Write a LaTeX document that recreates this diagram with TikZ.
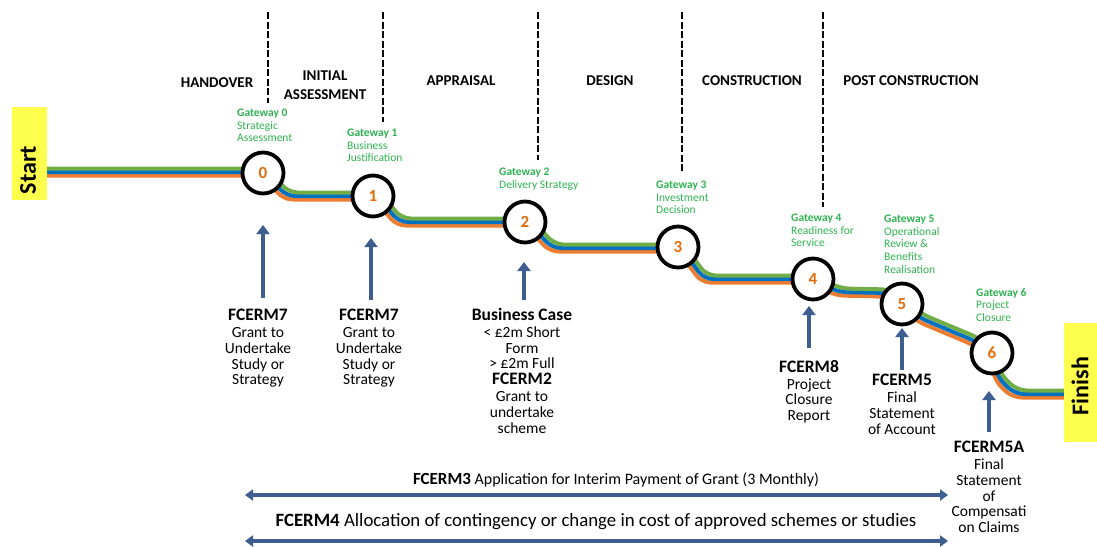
\documentclass[tikz,border=0pt]{standalone}
\usepackage{fontspec}
\setmainfont{Carlito}
\usetikzlibrary{arrows.meta}
\definecolor{trkgreen}{RGB}{112,173,71}
\definecolor{trkblue}{RGB}{0,112,192}
\definecolor{trkorange}{RGB}{237,125,49}
\definecolor{gwgreen}{RGB}{46,178,80}
\definecolor{numorange}{RGB}{228,108,10}
\definecolor{steel}{RGB}{62,94,145}
\definecolor{startyellow}{RGB}{255,255,77}
\begin{document}
\begin{tikzpicture}[x=1pt,y=-1pt,
 gate/.style={circle,draw=black,line width=3.8pt,fill=white,minimum size=41pt,inner sep=0pt,font=\fontsize{17}{17}\selectfont\bfseries,text=numorange},
 phase/.style={font=\fontsize{15}{19}\selectfont\bfseries,align=center,inner sep=0pt},
 gwlabel/.style={anchor=north west,align=left,inner sep=0pt,text=gwgreen,font=\fontsize{11.5}{12.6}\selectfont},
 formtext/.style={anchor=north,align=center,inner sep=0pt,font=\fontsize{15.5}{15.8}\selectfont},
 formtitle/.style={},
 uparrow/.style={draw=steel,line width=4pt,-{Triangle[width=13pt,length=9pt]}},
 dblarrow/.style={draw=steel,line width=4.5pt,{Triangle[width=11pt,length=8pt]}-{Triangle[width=11pt,length=8pt]}},
 divider/.style={draw=black,line width=2.6pt,dash pattern=on 7pt off 2.5pt},
 endbox/.style={fill=startyellow,draw=none,inner sep=0pt},
 endtext/.style={rotate=90,inner sep=0pt,font=\fontsize{24}{24}\selectfont\bfseries},
]
\newcommand{\ftitle}[1]{{\fontsize{17.5}{16}\selectfont\bfseries #1}}
\useasboundingbox (0,0) rectangle (1097,546);

% track
\foreach \c/\dx/\dy in {trkorange/-2.5/-3.5, trkblue/0/0, trkgreen/2.5/3.5}{
  \draw[\c, line width=4pt, rounded corners=9pt, xshift=\dx pt, yshift=\dy pt]
    (40,172) -- (263,172) -- (268,175) -- (286,196) -- (373,196)
    -- (380,199) -- (399,222) -- (525,222)
    -- (532,226) -- (552,248) -- (678,248)
    -- (684,252) -- (704,279) -- (813,279)
    -- (820,283) -- (838,292) -- (888,293) -- (902,304)
    -- (920,318) -- (975,341) -- (992,352)
    -- (998,378) -- (1015,394) -- (1070,394);
}

% start / finish
\node[endbox, minimum width=35pt, minimum height=93pt] (startbox) at (29.5,153.5) {};
\node[endtext] (starttxt) at (28,170) {Start};
\node[endbox, minimum width=34pt, minimum height=119pt] (finishbox) at (1081,382.5) {};
\node[endtext] (finishtxt) at (1080,386) {Finish};

% dividers
\coordinate (d1t) at (268,12); \coordinate (d1b) at (268,103);
\coordinate (d2t) at (383,12); \coordinate (d2b) at (383,122);
\coordinate (d3t) at (538,12); \coordinate (d3b) at (538,160);
\coordinate (d4t) at (682,12); \coordinate (d4b) at (682,172);
\coordinate (d5t) at (823,12); \coordinate (d5b) at (823,207);
\foreach \i in {1,...,5}{\draw[divider] (d\i t) -- (d\i b);}

% phases
\node[phase] (ph0) at (217,83) {HANDOVER};
\node[phase] (ph1) at (325,85) {INITIAL\\ASSESSMENT};
\node[phase] (ph2) at (461,81) {APPRAISAL};
\node[phase] (ph3) at (610,81) {DESIGN};
\node[phase] (ph4) at (752,81) {CONSTRUCTION};
\node[phase] (ph5) at (911,81) {POST CONSTRUCTION};

% gateways
\node[gate] (g0) at (263,173) {0};
\node[gate] (g1) at (373,196) {1};
\node[gate] (g2) at (525,222) {2};
\node[gate] (g3) at (678,247) {3};
\node[gate] (g4) at (813,279) {4};
\node[gate] (g5) at (902,304) {5};
\node[gate] (g6) at (992,353) {6};

\node[gwlabel] (gl0) at (237,109) {\textbf{Gateway 0}\\Strategic\\Assessment};
\node[gwlabel] (gl1) at (347,129) {\textbf{Gateway 1}\\Business\\Justification};
\node[gwlabel] (gl2) at (499,168) {\textbf{Gateway 2}\\Delivery Strategy};
\node[gwlabel] (gl3) at (656,181) {\textbf{Gateway 3}\\Investment\\Decision};
\node[gwlabel] (gl4) at (791,214) {\textbf{Gateway 4}\\Readiness for\\Service};
\node[gwlabel] (gl5) at (884,215) {\textbf{Gateway 5}\\Operational\\Review \&\\Benefits\\Realisation};
\node[gwlabel] (gl6) at (976,288) {\textbf{Gateway 6}\\Project\\Closure};

% forms
\node[formtext] (f0) at (258,309) {\ftitle{FCERM7}\\[1pt]Grant to\\Undertake\\Study or\\Strategy};
\node[formtext] (f1) at (369,309) {\ftitle{FCERM7}\\[1pt]Grant to\\Undertake\\Study or\\Strategy};
\node[formtext] (f2) at (522,308) {\ftitle{Business Case}\\[1pt]< £2m Short\\Form\\> £2m Full\\\ftitle{FCERM2}\\[1pt]Grant to\\undertake\\scheme};
\node[formtext] (f4) at (809,360) {\ftitle{FCERM8}\\[1pt]Project\\Closure\\Report};
\node[formtext] (f5) at (902,374) {\ftitle{FCERM5}\\[1pt]Final\\Statement\\of Account};
\node[formtext] (f6) at (989,441) {\ftitle{FCERM5A}\\[1pt]Final\\Statement\\of\\Compensati\\on Claims};

% up arrows
\coordinate (a0b) at (263,298); \coordinate (a0t) at (263,225);
\coordinate (a1b) at (371,300); \coordinate (a1t) at (371,238);
\coordinate (a2b) at (524,300); \coordinate (a2t) at (524,262);
\coordinate (a4b) at (809,348); \coordinate (a4t) at (809,306);
\coordinate (a5b) at (902,370); \coordinate (a5t) at (902,328);
\coordinate (a6b) at (989,432); \coordinate (a6t) at (989,391);
\foreach \i in {0,1,2,4,5,6}{\draw[uparrow] (a\i b) -- (a\i t);}

% bottom arrows
\node[inner sep=0pt,font=\fontsize{16}{16}\selectfont] (l3) at (616,480) {{\fontsize{17}{16}\selectfont\bfseries FCERM3} Application for Interim Payment of Grant (3 Monthly)};
\coordinate (b3l) at (245,495); \coordinate (b3r) at (948,495);
\draw[dblarrow] (b3l) -- (b3r);
\node[inner sep=0pt,font=\fontsize{18.8}{18}\selectfont] (l4) at (596,522) {\textbf{FCERM4} Allocation of contingency or change in cost of approved schemes or studies};
\coordinate (b4l) at (245,541); \coordinate (b4r) at (948,541);
\draw[dblarrow] (b4l) -- (b4r);
\end{tikzpicture}
\end{document}
